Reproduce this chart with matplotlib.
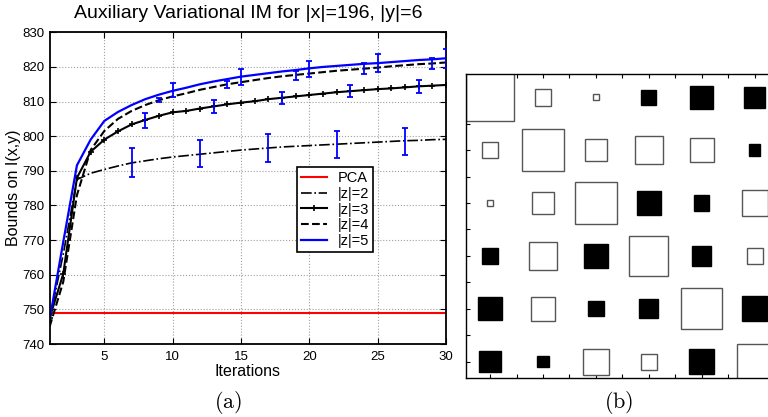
import numpy as np
import matplotlib
matplotlib.use('Agg')
import matplotlib.pyplot as plt
from matplotlib.patches import Rectangle

plt.rcParams['font.family'] = ['Liberation Sans', 'DejaVu Sans']
plt.rcParams['mathtext.fontset'] = 'cm'

### Data, panel (a)
iters = np.arange(1, 31)
pca_bound = 749.0
z2 = [747, 766, 787.5, 789.3, 790.4, 791.4, 792.3, 792.9, 793.5, 794.0,
      794.4, 794.8, 795.2, 795.6, 796.0, 796.3, 796.6, 796.9, 797.1, 797.3,
      797.5, 797.7, 797.9, 798.1, 798.3, 798.5, 798.7, 798.8, 799.0, 799.1]
z3 = [747.5, 760.3, 788.0, 795.5, 799.0, 801.4, 803.4, 804.7, 805.9, 806.9,
      807.3, 808.0, 808.6, 809.2, 809.7, 810.1, 810.7, 811.1, 811.5, 811.9,
      812.3, 812.7, 813.0, 813.3, 813.6, 813.8, 814.1, 814.4, 814.6, 814.8]
z4 = [745, 758, 783, 796, 801.5, 805.0, 807.3, 809.0, 810.4, 811.5,
      812.4, 813.4, 814.2, 815.0, 815.6, 816.2, 816.8, 817.3, 817.7, 818.1,
      818.5, 818.9, 819.2, 819.5, 819.8, 820.2, 820.5, 820.8, 821.0, 821.3]
z5 = [747, 769.5, 791.6, 799.0, 804.4, 807.0, 809.0, 810.7, 812.0, 813.1,
      814.0, 815.0, 815.8, 816.5, 817.2, 817.7, 818.2, 818.7, 819.1, 819.6,
      820.0, 820.3, 820.6, 820.9, 821.1, 821.4, 821.7, 822.0, 822.2, 822.5]

# error bars (x, low, high) for each |z|
eb_z2_x, eb_z2_lo, eb_z2_hi = [7, 12, 17, 22, 27], [788.3, 791.0, 792.6, 793.8, 794.6], [796.7, 799.0, 800.5, 801.6, 802.5]
eb_z3_x, eb_z3_lo, eb_z3_hi = [8, 13, 18, 23, 28], [802.4, 806.8, 809.3, 811.2, 812.5], [806.8, 810.6, 812.9, 814.8, 816.2]
eb_z4_x, eb_z4_lo, eb_z4_hi = [9, 14, 19, 24, 29], [809.8, 813.8, 816.2, 817.9, 819.3], [811.1, 816.0, 818.8, 821.0, 822.7]
eb_z5_x, eb_z5_lo, eb_z5_hi = [10, 15, 20, 25, 30], [811.2, 814.8, 817.2, 818.6, 819.8], [815.3, 819.3, 821.8, 823.6, 825.2]

### Data, panel (b): signed box sizes (fraction of a cell), white = positive
hinton_w = [
    [0.91, 0.315, 0.12, -0.29, -0.44, -0.40],
    [0.315, 0.79, 0.415, 0.535, 0.455, -0.22],
    [0.12, 0.415, 0.805, -0.46, -0.29, 0.49],
    [-0.29, 0.535, -0.46, 0.745, -0.365, 0.30],
    [-0.44, 0.455, -0.29, -0.365, 0.77, -0.465],
    [-0.40, -0.22, 0.49, 0.30, -0.465, 0.68],
]

fig = plt.figure(figsize=(7.68, 4.17), dpi=100)

### Panel (a)
ax = fig.add_axes([0.0646, 0.175, 0.516, 0.7475])
ax.axhline(pca_bound, color='#ff0000', lw=1.5, label='PCA')
ax.plot(iters, z2, color='k', ls='-.', lw=1.2, label='|z|=2')
ax.plot(iters, z3, color='k', ls='-', lw=1.5, marker='+', ms=5, mew=1.2, label='|z|=3')
ax.plot(iters, z4, color='k', ls='--', lw=1.5, label='|z|=4')
ax.plot(iters, z5, color='#0000ff', ls='-', lw=1.6, label='|z|=5')

for xs, lo, hi in [(eb_z2_x, eb_z2_lo, eb_z2_hi), (eb_z3_x, eb_z3_lo, eb_z3_hi),
                   (eb_z4_x, eb_z4_lo, eb_z4_hi), (eb_z5_x, eb_z5_lo, eb_z5_hi)]:
    lo, hi = np.array(lo), np.array(hi)
    mid = (lo + hi) / 2
    ax.errorbar(xs, mid, yerr=(hi - lo) / 2, fmt='none', ecolor='#0000ff',
                elinewidth=1.3, capsize=2.3, capthick=1.3, zorder=5)

ax.set_xlim(1, 30)
ax.set_ylim(740, 830)
ax.set_xticks([5, 10, 15, 20, 25, 30])
ax.set_yticks(np.arange(740, 831, 10))
ax.grid(True, ls=':', color='#a0a0a0', lw=0.8)
ax.tick_params(direction='in', top=True, right=True, length=4, labelsize=9.5, width=0.8)
ax.tick_params(axis='x', pad=5)
for s in ax.spines.values():
    s.set_linewidth(1.3)
ax.set_title('Auxiliary Variational IM for |x|=196, |y|=6', fontsize=14, pad=10)
ax.set_xlabel('Iterations', fontsize=11.5, labelpad=1)
ax.set_ylabel('Bounds on I(x,y)', fontsize=11.5, labelpad=1)
leg = ax.legend(loc='upper left', bbox_to_anchor=(0.623, 0.569), borderaxespad=0,
                fontsize=10.5, handlelength=1.8, labelspacing=0.12, fancybox=False,
                framealpha=1, edgecolor='k', borderpad=0.3, handletextpad=0.7)
leg.get_frame().set_linewidth(1.2)

### Panel (b): Hinton diagram
bx = fig.add_axes([0.6068, 0.0935, 0.435, 0.729])
bx.set_axisbelow(True)
for i, row in enumerate(hinton_w):
    for j, w in enumerate(row):
        s = abs(w)
        face = 'white' if w > 0 else 'black'
        edge = '#555555' if w > 0 else 'black'
        bx.add_patch(Rectangle((j + 1 - s / 2, i + 1 - s / 2), s, s,
                               facecolor=face, edgecolor=edge, lw=1.0))
bx.set_xlim(0.546, 0.546 + 334 / 52.9)
bx.set_ylim(6.31, 0.56)
bx.set_xticks(np.arange(1, 7, 0.5))
bx.set_yticks(np.arange(1, 6.5, 0.5))
bx.tick_params(direction='in', top=True, right=True, length=3, width=0.8,
               labelbottom=False, labelleft=False)
for s in bx.spines.values():
    s.set_linewidth(1.0)

### Sub-captions
fig.text(228 / 768, 1 - 402 / 417, r'$\mathrm{(a)}$', fontsize=16, ha='center', va='center')
fig.text(619 / 768, 1 - 402 / 417, r'$\mathrm{(b)}$', fontsize=16, ha='center', va='center')

fig.savefig('out.png', dpi=100)
